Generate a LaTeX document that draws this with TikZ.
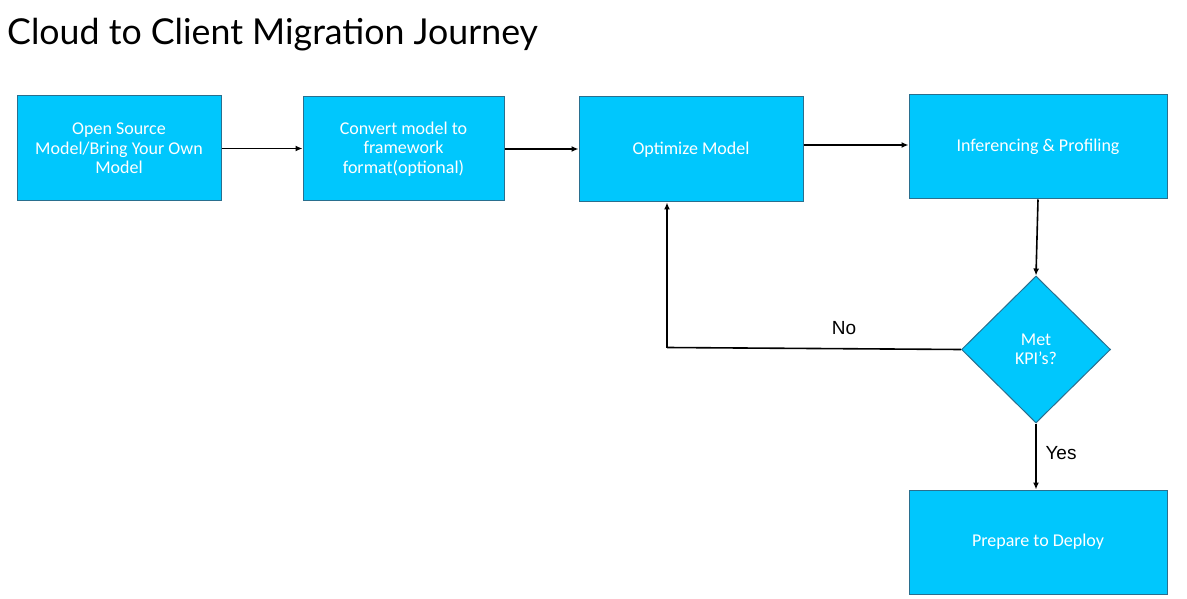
\documentclass[tikz,border=0pt]{standalone}
\usepackage{fontspec}
\setmainfont{Carlito}
\newfontfamily\titlefont{Lato}
\newfontfamily\labelfont{Liberation Sans}
\usetikzlibrary{shapes.geometric,arrows.meta}
\definecolor{boxfill}{HTML}{00C7FD}
\definecolor{boxline}{HTML}{2A6F8E}
\begin{document}
\begin{tikzpicture}[x=1pt,y=-1pt,
  stepbox/.style={draw=boxline,fill=boxfill,line width=1pt,text=white,align=center,
    font=\fontsize{18}{19.5}\selectfont,inner sep=0pt},
  decision/.style={diamond,draw=boxline,fill=boxfill,line width=1pt,text=white,align=center,
    font=\fontsize{18}{19.5}\selectfont,inner sep=0pt,minimum width=149pt,minimum height=147pt,aspect=1},
  conn/.style={line width=1.6pt,-{Latex[length=7pt,width=6pt]}},
  seg/.style={line width=1.6pt},
  lbl/.style={font=\labelfont\fontsize{19}{22}\selectfont,inner sep=0pt}]
\useasboundingbox (0,0) rectangle (1187,599);
\node[anchor=west,inner sep=0pt,font=\titlefont\fontsize{35.7}{40}\selectfont] (title) at (7,35) {Cloud to Client Migration Journey};
\node[stepbox,minimum width=204pt,minimum height=105pt] (a) at (119,148.5) {Open Source\\Model/Bring Your Own\\Model};
\node[stepbox,minimum width=201pt,minimum height=104pt] (b) at (403.5,149) {Convert model to\\framework\\format(optional)};
\node[stepbox,minimum width=224pt,minimum height=105pt] (c) at (691,149.5) {\raisebox{-2pt}{Optimize Model}};
\node[stepbox,minimum width=258pt,minimum height=104pt] (d) at (1038,147) {\raisebox{-2pt}{Inferencing \& Profiling}};
\node[decision] (k) at (1036,349.5) {Met\\KPI’s?};
\node[stepbox,minimum width=258pt,minimum height=104pt] (e) at (1038,542) {\raisebox{-2pt}{Prepare to Deploy}};
\coordinate (corner) at (667,347.5);
\draw[conn] (a.east) -- (b.west |- a.east);
\draw[conn] (b.east) -- (c.west |- b.east);
\draw[conn] (c.east |- 0,145) -- (d.west |- 0,145);
\draw[conn] (d.south) -- (k.north);
\draw[seg] (k.west) -- (corner);
\draw[conn] (corner) -- (corner |- c.south);
\draw[conn] (k.south) -- (e.north -| k.south);
\node[lbl] (no) at (844,328) {No};
\node[lbl] (yes) at (1061,453) {Yes};
\end{tikzpicture}
\end{document}
